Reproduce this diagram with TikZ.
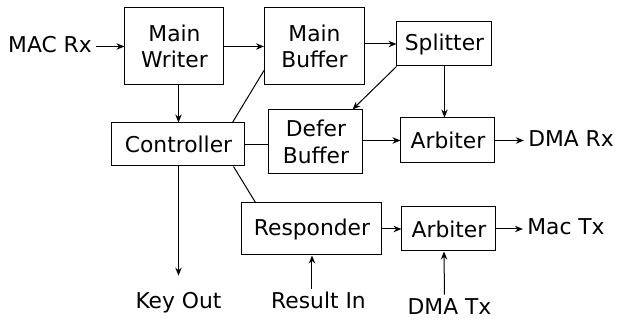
\documentclass[tikz,border=0pt]{standalone}
\usepackage{fontspec}
\setmainfont{DejaVu Sans}
\usetikzlibrary{arrows.meta, positioning}

\begin{document}
\begin{tikzpicture}[
    font=\fontsize{10.9pt}{13.3pt}\selectfont,
    node distance=70pt,
    block/.style={rectangle, draw, align=center, inner sep=0pt, line width=0.5pt},
    io/.style={inner sep=2pt, text height=8pt, text depth=2pt},
    arrow/.style={->, >={Stealth[length=4pt, width=3.2pt, inset=1.3pt]}, line width=0.5pt},
    wire/.style={line width=0.5pt}
]

\useasboundingbox (-87.25pt,-136.75pt) rectangle (221.75pt,23.25pt);

\node[block, minimum width=49.5pt, minimum height=38.5pt] (writer) {Main\\Writer};
\node[block, right of=writer, minimum width=50pt, minimum height=38.5pt] (mainbuf) {Main\\Buffer};
\node[block, right of=mainbuf, xshift=-5pt, yshift=1.25pt, minimum width=47.5pt, minimum height=22pt] (splitter) {Splitter};
\node[block, below of=writer, xshift=2pt, yshift=21pt, minimum width=66.5pt, minimum height=21.5pt] (ctrl) {Controller};
\node[block, right of=ctrl, xshift=-1.25pt, yshift=1.25pt, minimum width=47pt, minimum height=32pt] (deferbuf) {Defer\\Buffer};
\node[block, right of=deferbuf, xshift=-4pt, yshift=0.75pt, minimum width=47pt, minimum height=22.5pt] (arbrx) {Arbiter};
\node[block, below of=deferbuf, xshift=-2pt, yshift=26.5pt, minimum width=70pt, minimum height=26pt] (resp) {Responder};
\node[block, right of=resp, xshift=-1.5pt, minimum width=47pt, minimum height=22pt] (arbtx) {Arbiter};

\node[io, left of=writer, xshift=7.75pt] (macrx) {MAC Rx};
\node[io, right of=arbrx, xshift=-8.5pt] (dmarx) {DMA Rx};
\node[io, right of=arbtx, xshift=-11.5pt] (mactx) {Mac Tx};
\node[io, below of=ctrl, yshift=-9.25pt] (keyout) {Key Out};
\node[io, right of=keyout] (result) {Result In};
\node[io, right of=result, xshift=-4.5pt, yshift=-3pt] (dmatx) {DMA Tx};

\draw[arrow] (macrx) -- (writer);
\draw[arrow] (writer) -- (mainbuf);
\draw[arrow] (mainbuf.east |- splitter) -- (splitter);
\draw[arrow] (splitter.south west) -- ([xshift=-5.5pt]deferbuf.north east);
\draw[arrow] (splitter.south) -- (splitter.south |- arbrx.north);
\draw[arrow] (deferbuf.east |- arbrx) -- (arbrx);
\draw[arrow] (arbrx) -- (dmarx);
\draw[arrow] (ctrl.north |- writer.south) -- (ctrl.north);
\draw[wire] ([xshift=-6.5pt]ctrl.north east) -- ([yshift=7.5pt]mainbuf.south west);
\draw[wire] (ctrl.east) -- (ctrl.east -| deferbuf.west);
\draw[wire] ([xshift=-6pt]ctrl.south east) -- ([xshift=7pt]resp.north west);
\draw[arrow] (ctrl) -- ([yshift=6.5pt]keyout.north);
\draw[arrow] (result.north -| resp.south) -- (resp.south);
\draw[arrow] (resp) -- (arbtx);
\draw[arrow] ([xshift=-2.5pt]dmatx.north) -- ([xshift=-2.5pt]arbtx.south);
\draw[arrow] (arbtx) -- (mactx);

\end{tikzpicture}
\end{document}
